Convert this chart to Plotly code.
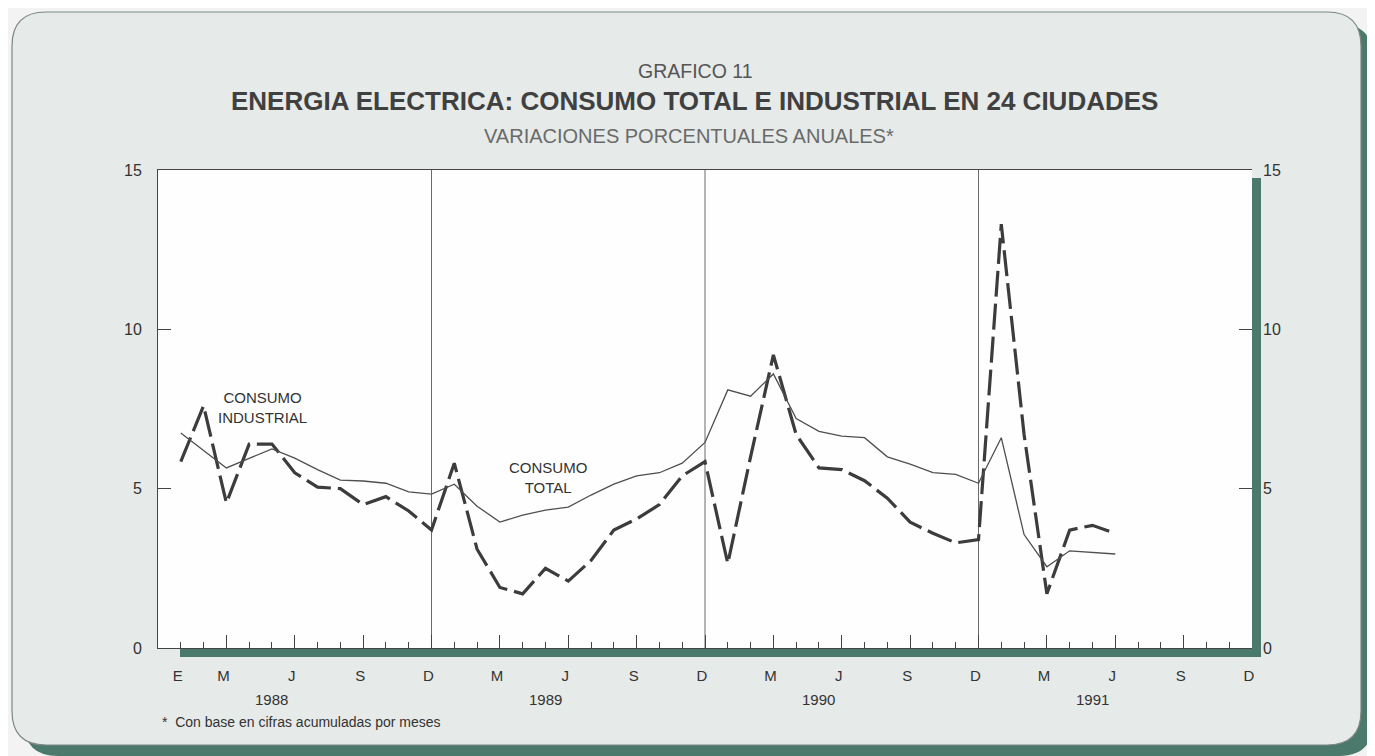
import plotly.graph_objects as go

# ---------------- data (annual % variation, monthly Jan-1988 .. Jun-1991) ----------------
months = list(range(1, 43))  # 1 = Jan 1988 ... 42 = Jun 1991
consumo_total = [6.75, 6.2, 5.65, 5.95, 6.25, 5.96, 5.6, 5.27, 5.24, 5.17, 4.9, 4.83,
                 5.14, 4.45, 3.95, 4.17, 4.33, 4.42, 4.8, 5.14, 5.4, 5.5, 5.8, 6.45,
                 8.1, 7.9, 8.6, 7.2, 6.8, 6.65, 6.6, 6.0, 5.77, 5.5, 5.45, 5.17,
                 6.6, 3.56, 2.55, 3.05, 3.0, 2.95]
consumo_industrial = [5.85, 7.6, 4.55, 6.4, 6.4, 5.5, 5.05, 5.0, 4.5, 4.75, 4.3, 3.7,
                      5.8, 3.1, 1.9, 1.7, 2.5, 2.1, 2.75, 3.7, 4.05, 4.5, 5.4, 5.85,
                      2.65, 6.0, 9.2, 6.7, 5.65, 5.6, 5.25, 4.7, 3.95, 3.6, 3.3, 3.4,
                      13.3, 6.7, 1.7, 3.7, 3.85, 3.6]
years = ["1988", "1989", "1990", "1991"]
first_year_labels = ["E", "M", "J", "S", "D"]
first_year_pos = [1, 3, 6, 9, 12]
other_year_labels = ["M", "J", "S", "D"]
other_year_pos = [3, 6, 9, 12]
y_ticks = [0, 5, 10, 15]

n_months = 12 * len(years)

# ---------------- geometry helpers (page pixel -> paper) ----------------
OFF = 8                       # default body margin of the html page
W, H = 1375 - OFF, 756 - OFF  # figure size so that it fills the window exactly
L, R, T, B = 158, 1252, 170, 648   # plot area in page pixels
TEAL = "#4b7a6c"
INK = "#333333"
FONT = "Liberation Sans, Arial, sans-serif"


def px(x):
    return (x - L) / (R - L)


def py(y):
    return (B - y) / (B - T)


def rrect(x0, y0, x1, y1, r):
    pts = [
        ("M", [(x0 + r, y0)]), ("L", [(x1 - r, y0)]), ("Q", [(x1, y0), (x1, y0 + r)]),
        ("L", [(x1, y1 - r)]), ("Q", [(x1, y1), (x1 - r, y1)]),
        ("L", [(x0 + r, y1)]), ("Q", [(x0, y1), (x0, y1 - r)]),
        ("L", [(x0, y0 + r)]), ("Q", [(x0, y0), (x0 + r, y0)]),
    ]
    s = ""
    for cmd, pp in pts:
        s += cmd + " " + " ".join(f"{px(a):.5f},{py(b):.5f}" for a, b in pp) + " "
    return s + "Z"


shapes = [
    dict(type="path", xref="paper", yref="paper", path=rrect(24, 24, 1373, 756, 34),
         fillcolor=TEAL, line=dict(width=0), layer="below"),
    dict(type="path", xref="paper", yref="paper", path=rrect(12, 12, 1361, 745, 34),
         fillcolor="#e6eae8", line=dict(color="#7c8884", width=1.2), layer="below"),
    dict(type="rect", xref="paper", yref="paper", x0=px(180), x1=px(1261), y0=py(657), y1=py(178),
         fillcolor=TEAL, line=dict(width=0), layer="below"),
    dict(type="rect", xref="paper", yref="paper", x0=px(158), x1=px(1252), y0=py(648), y1=py(170),
         fillcolor="#fefefe", line=dict(width=0), layer="below"),
]
# year separators (December of each year)
for k in range(1, len(years)):
    shapes.append(dict(type="line", xref="x", yref="paper", x0=12 * k, x1=12 * k, y0=0, y1=1,
                       line=dict(color="#6a6a6a", width=1), layer="below"))

fig = go.Figure()
fig.add_trace(go.Scatter(x=months, y=consumo_industrial, mode="lines", name="Consumo industrial",
                         line=dict(color="#3c3c3c", width=3.2, dash="26px,7px"),
                         hoverinfo="x+y", showlegend=False))
fig.add_trace(go.Scatter(x=months, y=consumo_total, mode="lines", name="Consumo total",
                         xaxis="x2", yaxis="y2",
                         line=dict(color="#4f4f4f", width=1.3),
                         hoverinfo="x+y", showlegend=False))

# month label positions for all years
lab_vals, lab_text = [], []
for k in range(len(years)):
    pos = first_year_pos if k == 0 else other_year_pos
    labs = first_year_labels if k == 0 else other_year_labels
    for p, t in zip(pos, labs):
        lab_vals.append(12 * k + p)
        lab_text.append(t)


def ann(text, x, y, size, color=INK, xref="paper", yref="paper", xanchor="center", bold=False):
    return dict(text=f"<b>{text}</b>" if bold else text, x=x, y=y, xref=xref, yref=yref,
                xanchor=xanchor, yanchor="middle", showarrow=False,
                font=dict(size=size, color=color, family=FONT))


annotations = [
    ann("GRAFICO 11", px(695), py(71), 19.5, "#555555"),
    ann("ENERGIA ELECTRICA: CONSUMO TOTAL E INDUSTRIAL EN 24 CIUDADES", px(694), py(101), 26,
        "#404040", bold=True),
    ann("VARIACIONES PORCENTUALES ANUALES*", px(689), py(136), 20, "#6a6a6a"),
    ann("CONSUMO<br>INDUSTRIAL", 4.6, 7.55, 15, xref="x", yref="y"),
    ann("CONSUMO<br>TOTAL", 17.1, 5.35, 15, xref="x", yref="y"),
    ann("*  Con base en cifras acumuladas por meses", px(160), py(722), 14, xanchor="left"),
]
for k, yr in enumerate(years):
    annotations.append(ann(yr, 12 * k + 5, py(699), 15, xref="x"))

axis_common = dict(showgrid=False, zeroline=False)

fig.update_layout(
    width=W, height=H,
    margin=dict(l=L - OFF, r=1375 - R, t=T - OFF, b=756 - B, pad=0),
    paper_bgcolor="#f2f3f2",
    plot_bgcolor="rgba(0,0,0,0)",
    font=dict(family=FONT, color=INK),
    shapes=shapes,
    annotations=annotations,
    xaxis=dict(range=[0, n_months], tickmode="array", tickvals=list(range(3, n_months + 1, 3)),
               ticks="inside", ticklen=13, tickwidth=1, tickcolor="#444444",
               showticklabels=False, showline=True, linecolor="#444444", linewidth=1, mirror=True,
               minor=dict(ticks="inside", ticklen=6, tickwidth=1, tickcolor="#444444",
                          tickmode="array", tickvals=list(range(1, n_months))),
               **axis_common),
    xaxis2=dict(range=[0, n_months], overlaying="x", anchor="y2", side="bottom",
                tickmode="array", tickvals=lab_vals, ticktext=lab_text, ticks="",
                showline=False, ticklabelstandoff=17, ticklabelshift=-3,
                tickfont=dict(size=15, color=INK, family=FONT), **axis_common),
    yaxis=dict(range=[0, 15], tickmode="array", tickvals=y_ticks, ticks="inside", ticklen=13,
               tickwidth=1, tickcolor="#444444", showline=True, linecolor="#444444", linewidth=1,
               ticklabelstandoff=12, tickfont=dict(size=16, color=INK, family=FONT), **axis_common),
    yaxis2=dict(range=[0, 15], overlaying="y", side="right", anchor="x2", tickmode="array",
                tickvals=y_ticks, ticks="inside", ticklen=13, tickwidth=1, tickcolor="#444444",
                showline=False, ticklabelstandoff=10,
                tickfont=dict(size=16, color=INK, family=FONT), **axis_common),
)

fig.write_html("out.html")
